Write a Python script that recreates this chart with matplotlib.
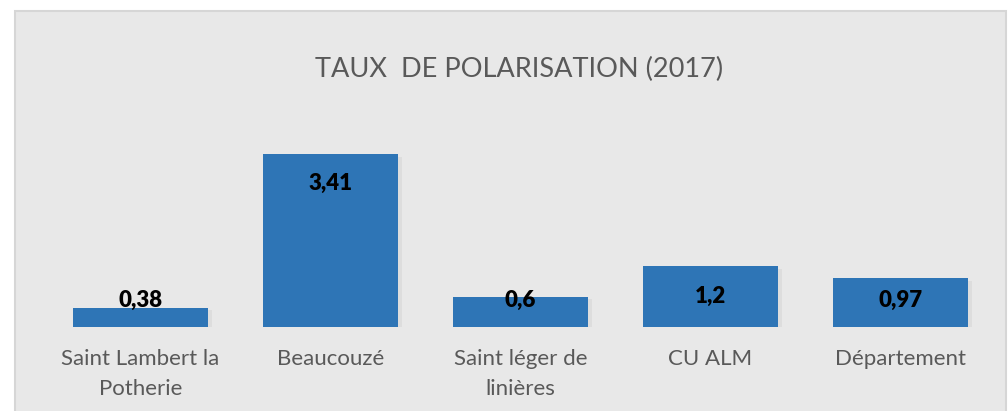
import numpy as np
import matplotlib.pyplot as plt
from matplotlib.patches import Rectangle
from matplotlib import patheffects as pe

plt.rcParams['font.family'] = ['Lato', 'DejaVu Sans']

communes = ['Saint Lambert la\nPotherie', 'Beaucouzé', 'Saint léger de\nlinières', 'CU ALM', 'Département']
taux = np.array([0.38, 3.41, 0.6, 1.2, 0.97])
taux_labels = ['0,38', '3,41', '0,6', '1,2', '0,97']

fig = plt.figure(figsize=(10.08, 4.11), dpi=100)
fig.patch.set_facecolor('white')

# grey chart area like the Excel frame
fig.patches.append(Rectangle((15 / 1008, -0.01), 991 / 1008, 400 / 411 + 0.01,
                             transform=fig.transFigure, facecolor='#e8e8e8',
                             edgecolor='#d6d6d6', linewidth=1.5, zorder=0))

ax = fig.add_axes([45.5 / 1008, 84 / 411, 950 / 1008, 203 / 411])
ax.set_zorder(2)
ax.set_facecolor('none')
x = np.arange(len(communes))
bars = ax.bar(x, taux, width=0.71, color='#2e75b6', zorder=3)
for b in bars:
    b.set_path_effects([pe.SimplePatchShadow(offset=(3, -2), shadow_rgbFace='#909090', alpha=0.12),
                        pe.Normal()])

ax.set_xlim(-0.5, len(communes) - 0.5)
ax.set_ylim(0, 4)

label_y = np.maximum(taux - 0.59, 0.53)
for xi, yi, lab in zip(x, label_y, taux_labels):
    ax.text(xi, yi, lab, ha='center', va='center', fontsize=16, fontweight='heavy',
            color='black', zorder=4)

ax.set_xticks(x)
ax.set_xticklabels(communes, fontsize=16, color='#595959', linespacing=1.6)
ax.tick_params(axis='x', length=0, pad=16)
ax.set_yticks([])
for s in ax.spines.values():
    s.set_visible(False)

fig.text(519 / 1008, 1 - 69 / 411, 'TAUX  DE POLARISATION (2017)', ha='center', va='center',
         fontsize=19.5, color='#595959', zorder=3)

fig.savefig('out.png', dpi=100)
